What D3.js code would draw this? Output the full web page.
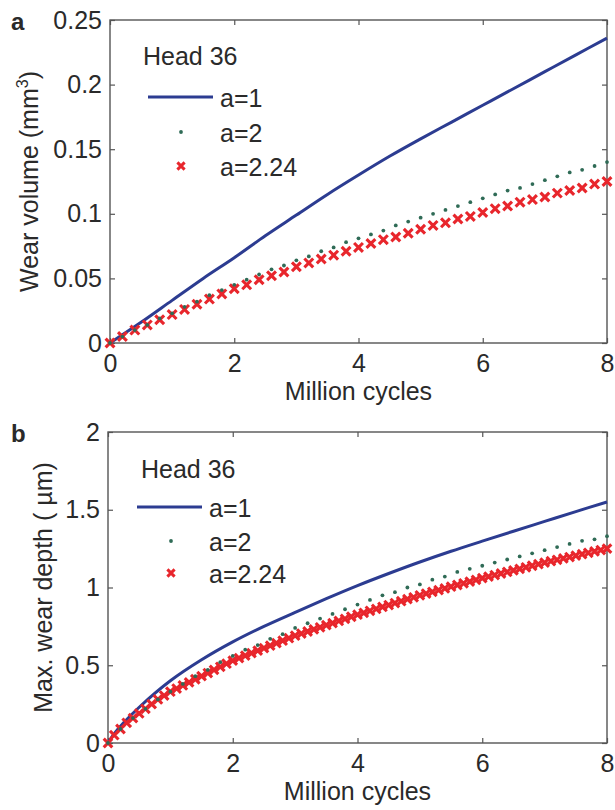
<!DOCTYPE html>
<html>
<head>
<meta charset="utf-8">
<script src="https://cdn.jsdelivr.net/npm/d3@7"></script>
<style>
  body { margin: 0; background: #fff; }
  svg text { font-family: "Liberation Sans", Arial, sans-serif; fill: #2a2a2a; }
</style>
</head>
<body>
<svg id="fig" width="615" height="810"></svg>
<script>
// ---- shared axis content ----
const xTicks = [0, 2, 4, 6, 8];
const xTickLabels = ["0", "2", "4", "6", "8"];
const volTicks = [0, 0.05, 0.1, 0.15, 0.2, 0.25];
const volTickLabels = ["0", "0.05", "0.1", "0.15", "0.2", "0.25"];
const depthTicks = [0, 0.5, 1, 1.5, 2];
const depthTickLabels = ["0", "0.5", "1", "1.5", "2"];
const legendTitle = "Head 36";
const legendLabels = ["a=1", "a=2", "a=2.24"];

// ---- panel a: wear volume (mm^3) vs million cycles ----
const volCyclesA1 = [0, 0.5, 1, 1.5, 2, 2.5, 3, 3.5, 4, 4.5, 5, 5.5, 6, 6.5, 7, 7.5, 8];
const volA1 = [0, 0.016, 0.033, 0.050, 0.066, 0.083, 0.099, 0.115, 0.130, 0.1445, 0.158, 0.171, 0.184, 0.197, 0.210, 0.223, 0.236];

const volStep = 0.2; // sampling interval of the marker series (million cycles)
const volA2 = [0, 0.005, 0.010, 0.014, 0.019, 0.023, 0.028, 0.032, 0.037, 0.041,
               0.045, 0.049, 0.053, 0.057, 0.060, 0.064, 0.067, 0.071, 0.074, 0.078,
               0.081, 0.084, 0.087, 0.091, 0.094, 0.097, 0.100, 0.103, 0.106, 0.109,
               0.112, 0.115, 0.118, 0.120, 0.123, 0.126, 0.129, 0.132, 0.134, 0.137, 0.140];
const volA224 = [0, 0.005, 0.010, 0.014, 0.018, 0.022, 0.026, 0.030, 0.034, 0.038,
                 0.042, 0.045, 0.049, 0.052, 0.055, 0.059, 0.062, 0.065, 0.068, 0.071,
                 0.074, 0.077, 0.080, 0.082, 0.085, 0.088, 0.091, 0.093, 0.096, 0.098,
                 0.101, 0.104, 0.106, 0.109, 0.111, 0.113, 0.116, 0.118, 0.120, 0.123, 0.125];

// ---- panel b: max. wear depth (um) vs million cycles ----
const depthCyclesA1 = [0, 0.1, 0.25, 0.5, 1, 1.5, 2, 2.5, 3, 3.5, 4, 4.5, 5, 5.5, 6, 6.5, 7, 7.5, 8];
const depthA1 = [0, 0.06, 0.13, 0.23, 0.40, 0.535, 0.65, 0.75, 0.84, 0.928, 1.012, 1.09, 1.164, 1.233, 1.298, 1.362, 1.425, 1.488, 1.55];

const depthStepA2 = 0.2;
const depthA2 = [0, 0.09, 0.16, 0.22, 0.28, 0.33, 0.38, 0.43, 0.47, 0.52,
                 0.56, 0.60, 0.63, 0.67, 0.70, 0.74, 0.77, 0.80, 0.83, 0.86,
                 0.89, 0.92, 0.95, 0.97, 1.00, 1.02, 1.05, 1.07, 1.10, 1.12,
                 1.14, 1.16, 1.18, 1.20, 1.22, 1.24, 1.26, 1.28, 1.30, 1.31, 1.33];

const depthStepA224 = 0.1;
const depthA224 = [0, 0.05, 0.09, 0.13, 0.16, 0.19, 0.22, 0.25, 0.28, 0.305,
                   0.33, 0.35, 0.37, 0.39, 0.41, 0.43, 0.45, 0.47, 0.49, 0.51,
                   0.53, 0.546, 0.562, 0.578, 0.594, 0.61, 0.626, 0.642, 0.658, 0.674,
                   0.69, 0.704, 0.717, 0.731, 0.744, 0.758, 0.771, 0.785, 0.798, 0.812,
                   0.825, 0.837, 0.85, 0.862, 0.875, 0.887, 0.90, 0.912, 0.925, 0.937,
                   0.95, 0.961, 0.972, 0.983, 0.994, 1.005, 1.016, 1.027, 1.038, 1.049,
                   1.06, 1.07, 1.08, 1.09, 1.10, 1.11, 1.12, 1.13, 1.14, 1.15,
                   1.16, 1.169, 1.178, 1.187, 1.196, 1.205, 1.214, 1.223, 1.232, 1.241, 1.25];

// ---- styling ----
const BLUE = "#2c3c91";
const GREEN = "#2f6b56";
const RED = "#e8262c";
const AXIS = "#555";
const FONT = 25;

const svg = d3.select("#fig");

function sampled(values, step) {
  return values.map((v, i) => ({ x: i * step, y: v }));
}
function paired(xs, ys) {
  return xs.map((x, i) => ({ x, y: ys[i] }));
}

function crossPath(h) {
  return `M${-h},${-h}L${h},${h}M${-h},${h}L${h},${-h}`;
}

function drawPanel(p) {
  const x = d3.scaleLinear().domain([0, 8]).range([p.left, p.right]);
  const y = d3.scaleLinear().domain([0, p.yMax]).range([p.bottom, p.top]);
  const g = svg.append("g");

  // plot box
  g.append("rect")
    .attr("x", p.left).attr("y", p.top)
    .attr("width", p.right - p.left).attr("height", p.bottom - p.top)
    .attr("fill", "none").attr("stroke", AXIS).attr("stroke-width", 1.4);

  // inward ticks on all four sides, labels on bottom and left
  const styleAxis = (sel) => {
    sel.select(".domain").remove();
    sel.selectAll(".tick line").attr("stroke", AXIS).attr("stroke-width", 1.2);
    sel.selectAll("text").attr("font-size", FONT).attr("font-family", null).attr("fill", "#2a2a2a");
  };
  g.append("g").attr("transform", `translate(0,${p.bottom})`)
    .call(d3.axisBottom(x).tickValues(xTicks).tickFormat((d, i) => xTickLabels[i])
      .tickSizeInner(-5).tickSizeOuter(0).tickPadding(11))
    .call(styleAxis);
  g.append("g").attr("transform", `translate(0,${p.top})`)
    .call(d3.axisTop(x).tickValues(xTicks).tickFormat("").tickSizeInner(-5).tickSizeOuter(0))
    .call(styleAxis);
  g.append("g").attr("transform", `translate(${p.left},0)`)
    .call(d3.axisLeft(y).tickValues(p.yTicks).tickFormat((d, i) => p.yTickLabels[i])
      .tickSizeInner(-5).tickSizeOuter(0).tickPadding(8))
    .call(styleAxis);
  g.append("g").attr("transform", `translate(${p.right},0)`)
    .call(d3.axisRight(y).tickValues(p.yTicks).tickFormat("").tickSizeInner(-5).tickSizeOuter(0))
    .call(styleAxis);

  // axis titles
  g.append("text")
    .attr("x", (p.left + p.right) / 2).attr("y", p.bottom + 57)
    .attr("text-anchor", "middle").attr("font-size", FONT)
    .text("Million cycles");
  const yl = g.append("text")
    .attr("transform", `translate(${p.yLabelX},${(p.top + p.bottom) / 2}) rotate(-90)`)
    .attr("text-anchor", "middle").attr("font-size", FONT);
  p.yLabel(yl);

  // panel letter
  g.append("text").attr("x", 11).attr("y", p.letterY)
    .attr("font-size", 24).attr("font-weight", "bold").attr("fill", "#111")
    .text(p.letter);

  // series a=1 : solid line
  g.append("path").datum(p.line)
    .attr("fill", "none").attr("stroke", BLUE).attr("stroke-width", 3)
    .attr("d", d3.line().x(d => x(d.x)).y(d => y(d.y)).curve(d3.curveCatmullRom.alpha(0.5)));

  // series a=2.24 : crosses
  g.append("g").selectAll("path").data(p.crosses).join("path")
    .attr("transform", d => `translate(${x(d.x)},${y(d.y)})`)
    .attr("d", crossPath(p.crossHalf))
    .attr("stroke", RED).attr("stroke-width", 3.1).attr("fill", "none");

  // series a=2 : dots
  g.append("g").selectAll("circle").data(p.dots).join("circle")
    .attr("cx", d => x(d.x)).attr("cy", d => y(d.y)).attr("r", 1.9)
    .attr("fill", GREEN);

  // legend
  const L = p.legend;
  g.append("text").attr("x", L.titleX).attr("y", L.titleY).attr("font-size", FONT).text(legendTitle);
  g.append("line")
    .attr("x1", L.lineX1).attr("x2", L.lineX2).attr("y1", L.rowY[0]).attr("y2", L.rowY[0])
    .attr("stroke", BLUE).attr("stroke-width", 3);
  g.append("circle").attr("cx", L.markX).attr("cy", L.rowY[1]).attr("r", 1.9).attr("fill", GREEN);
  g.append("path").attr("transform", `translate(${L.markX},${L.rowY[2]})`)
    .attr("d", crossPath(3.6)).attr("stroke", RED).attr("stroke-width", 3);
  legendLabels.forEach((t, i) => {
    g.append("text").attr("x", L.textX).attr("y", L.rowY[i] + 10)
      .attr("font-size", FONT).text(t);
  });
}

drawPanel({
  left: 110, right: 607, top: 20, bottom: 343,
  yMax: 0.25, yTicks: volTicks, yTickLabels: volTickLabels,
  yLabelX: 38, letter: "a", letterY: 30,
  yLabel: (t) => {
    t.append("tspan").text("Wear volume (mm");
    t.append("tspan").attr("dy", -10).attr("font-size", 16).text("3");
    t.append("tspan").attr("dy", 10).text(")");
  },
  line: paired(volCyclesA1, volA1),
  dots: sampled(volA2, volStep),
  crosses: sampled(volA224, volStep),
  crossHalf: 4.4,
  legend: { titleX: 143, titleY: 65, lineX1: 148, lineX2: 213, markX: 181,
            textX: 220, rowY: [97, 132, 166] }
});

drawPanel({
  left: 108, right: 607, top: 432, bottom: 743,
  yMax: 2, yTicks: depthTicks, yTickLabels: depthTickLabels,
  yLabelX: 52, letter: "b", letterY: 442,
  yLabel: (t) => t.text("Max. wear depth ( \u00b5m)"),
  line: paired(depthCyclesA1, depthA1),
  dots: sampled(depthA2, depthStepA2),
  crosses: sampled(depthA224, depthStepA224),
  crossHalf: 4.3,
  legend: { titleX: 141, titleY: 478, lineX1: 137, lineX2: 202, markX: 171,
            textX: 209, rowY: [507, 541, 573] }
});
</script>
</body>
</html>
